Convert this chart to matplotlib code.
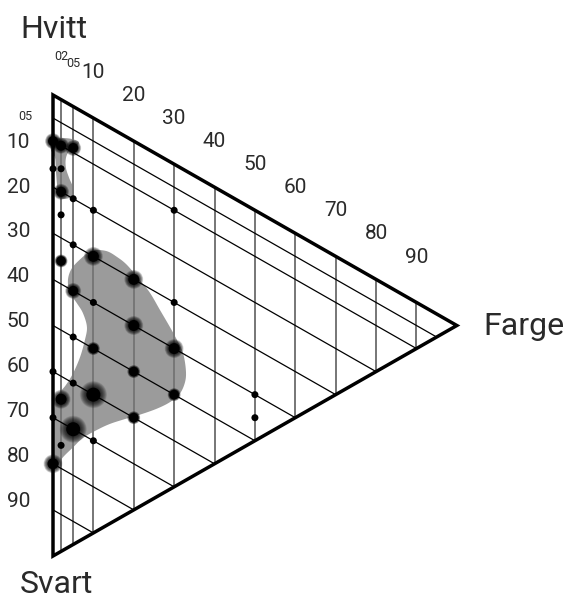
import numpy as np
import matplotlib
matplotlib.use("Agg")
import matplotlib.pyplot as plt
from matplotlib.patches import Circle, Polygon

# Colour samples in NCS notation: chromaticness (c), blackness (s), and how many samples
chroma    = [0, 2, 5, 0, 2, 2, 5, 10, 30, 2, 5, 2, 10, 20, 5, 10, 30, 20,
             5, 10, 30, 20, 0, 5, 10, 2, 30, 0, 20, 5, 10, 2, 0, 50, 50]
blackness = [10, 10, 9, 16, 15, 20, 20, 20, 10, 25, 30, 35, 30, 30, 40, 40, 30, 40,
             50, 50, 40, 50, 60, 60, 60, 65, 50, 70, 60, 70, 70, 75, 80, 40, 45]
frequency = [3, 3, 3, 1, 1, 3, 1, 1, 1, 1, 1, 2, 4, 4, 3, 1, 1, 4,
             1, 2, 4, 2, 1, 1, 5, 4, 2, 1, 2, 5, 1, 1, 4, 1, 1]

# Outline of the main colour area (c, s)
area_c = [7.4, 9.2, 10.6, 13.4, 15.8, 18.3, 21.5, 24.0, 26.5, 29.0, 30.7, 32.2, 32.9,
          32.7, 31.4, 29.0, 25.7, 21.5, 17.8, 14.1, 10.9, 7.4, 5.0, 2.5, 0.7, 0.2, 0.2,
          0.5, 1.2, 3.2, 5.0, 6.7, 7.9, 8.4, 7.4, 5.9, 4.2, 3.7, 4.7]
area_s = [31.4, 29.3, 28.3, 27.2, 27.2, 27.7, 29.4, 30.9, 33.4, 35.9, 37.8, 39.9, 43.2,
          45.9, 49.1, 52.1, 55.2, 58.6, 61.4, 64.3, 67.2, 70.7, 73.9, 77.3, 80.3, 76.9, 71.5,
          67.0, 64.5, 61.3, 57.8, 53.5, 49.2, 46.1, 43.6, 42.2, 40.8, 38.3, 35.2]

# Outline of the small light area near white (c, s)
light_c = [-0.7, 0.0, 2.2, 4.7, 6.4, 5.7, 4.0, 3.2, 3.2, 4.0, 5.0, 4.7, 2.7, 1.2, 1.0, 0.7, 0.5, -0.5]
light_s = [10.8, 9.3, 8.2, 7.2, 7.0, 8.4, 10.2, 12.1, 14.2, 16.0, 17.7, 19.6, 21.2, 21.3,
           19.0, 15.9, 13.4, 12.2]

chroma_grid = [2, 5, 10, 20, 30, 40, 50, 60, 70, 80, 90]
black_grid = [5, 10, 20, 30, 40, 50, 60, 70, 80, 90]
chroma_labels = ["02", "05", "10", "20", "30", "40", "50", "60", "70", "80", "90"]
black_labels = ["05", "10", "20", "30", "40", "50", "60", "70", "80", "90"]

PX = 4.61          # pixels per blackness unit
KX = 0.876         # horizontal stretch of the chromaticness axis
FONT = ["Roboto", "DejaVu Sans"]
TXT = "#2a2a2a"


def tri(c, s):
    c = np.asarray(c, dtype=float)
    s = np.asarray(s, dtype=float)
    return KX * c, s + 0.5 * c


def smooth_closed(xs, ys, n=14):
    pts = np.column_stack([xs, ys])
    N = len(pts)
    t = np.linspace(0, 1, n, endpoint=False)[:, None]
    out = []
    for i in range(N):
        p0, p1, p2, p3 = pts[(i - 1) % N], pts[i], pts[(i + 1) % N], pts[(i + 2) % N]
        out.append(0.5 * (2 * p1 + (-p0 + p2) * t + (2 * p0 - 5 * p1 + 4 * p2 - p3) * t ** 2
                          + (-p0 + 3 * p1 - 3 * p2 + p3) * t ** 3))
    return np.vstack(out)


fig = plt.figure(figsize=(5.69, 6.01), dpi=100)
ax = fig.add_axes([0, 0, 1, 1])
ax.set_xlim(-53 / PX, (569 - 53) / PX)
ax.set_ylim((601 - 95) / PX, -95 / PX)
ax.axis("off")

# Shaded areas
for cc, ss in ((area_c, area_s), (light_c, light_s)):
    x, y = tri(cc, ss)
    ax.add_patch(Polygon(smooth_closed(x, y), closed=True, facecolor="#9b9b9b",
                         edgecolor="none", zorder=1))

# Chromaticness lines (vertical)
for c in chroma_grid:
    x0, y0 = tri(c, 0)
    x1, y1 = tri(c, 100 - c)
    ax.plot([x0, x1], [y0, y1], color="#767676", lw=1.4, zorder=2, solid_capstyle="butt")

# Blackness lines (parallel to the white-colour edge)
for s in black_grid:
    x0, y0 = tri(0, s)
    x1, y1 = tri(100 - s, s)
    ax.plot([x0, x1], [y0, y1], color="black", lw=0.9, zorder=2, solid_capstyle="butt")

# Triangle outline
vx, vy = tri([0, 100, 0], [0, 0, 100])
ax.add_patch(Polygon(np.column_stack([vx, vy]), closed=True, fill=False, edgecolor="black",
                     lw=2.5, joinstyle="miter", zorder=3))

# Scale labels
for c, lab in zip(chroma_grid, chroma_labels):
    x, y = tri(c, 0)
    small = c < 10
    ax.text(x, y - 8.66, lab, ha="center", va="baseline", fontsize=9 if small else 15,
            color=TXT, family=FONT)
for s, lab in zip(black_grid, black_labels):
    if s < 10:
        ax.text(-4.4, 5.42, lab, ha="right", va="baseline", fontsize=9, color=TXT, family=FONT)
    else:
        ax.text(-4.99, 0.976 * s + 1.63, lab, ha="right", va="baseline", fontsize=15,
                color=TXT, family=FONT)

# Corner names
ax.text(-7.0, -12.36, "Hvitt", ha="left", va="baseline", fontsize=23, color=TXT, family=FONT)
ax.text(93.3, 52.06, "Farge", ha="left", va="baseline", fontsize=23, color=TXT, family=FONT)
ax.text(-7.16, 108.0, "Svart", ha="left", va="baseline", fontsize=23, color=TXT, family=FONT)

# Samples: solid core with a soft dark halo that grows with frequency
dot_style = {1: (3.5, 0.0), 2: (4.8, 6.5), 3: (5.0, 8.0), 4: (5.5, 9.5), 5: (7.0, 13.5)}
for c, s, f in zip(chroma, blackness, frequency):
    x, y = tri(c, s)
    core, halo = dot_style[f]
    if halo > 0:
        for r in np.linspace(halo, core, 14):
            ax.add_patch(Circle((x, y), r / PX, facecolor="black", edgecolor="none",
                                alpha=0.09, zorder=4))
    ax.add_patch(Circle((x, y), core / PX, facecolor="black", edgecolor="none", zorder=5))

fig.savefig("out.png", dpi=100)
